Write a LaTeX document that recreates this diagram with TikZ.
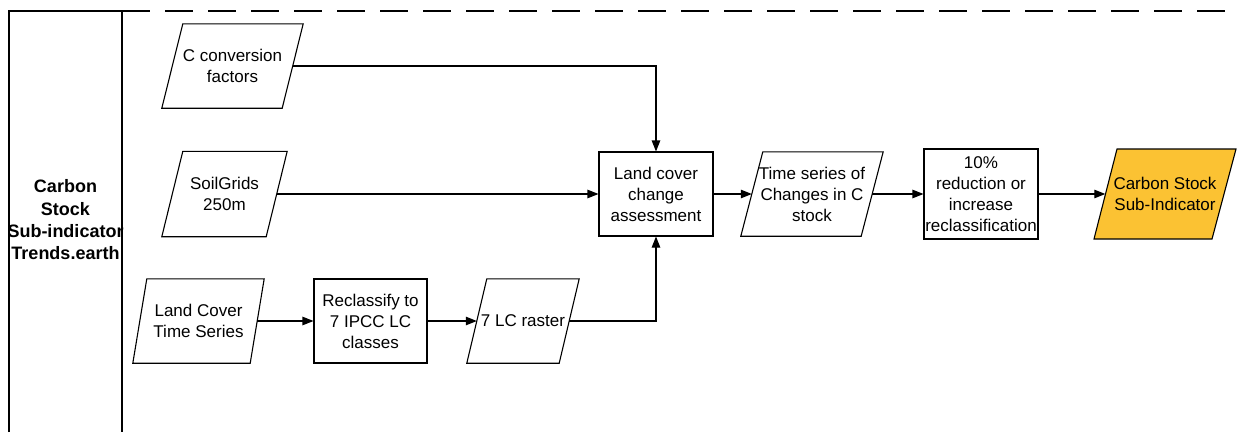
\documentclass[tikz,border=0pt]{standalone}
\usepackage{fontspec}
\setmainfont{Liberation Sans}
\usetikzlibrary{arrows.meta}
\definecolor{csfill}{RGB}{251,194,51}
\tikzset{
  x=1pt, y=-1pt,
  every node/.style={inner sep=0pt, align=center, font=\fontsize{17}{21}\selectfont},
  boxnode/.style={draw, line width=1.1pt, minimum width=#1},
  paranode/.style={minimum width=#1},
  arr/.style={line width=1.1pt, -{Triangle[length=11pt,width=8.5pt]}},
  frame/.style={line width=1.1pt},
  lanetext/.style={font=\fontsize{18}{22.3}\selectfont\bfseries}
}
\begin{document}
\begin{tikzpicture}
\useasboundingbox (0,0) rectangle (1240,432);
% lane frame
\draw[frame] (9,432) -- (9,11) -- (122,11) -- (122,432);
\draw[frame, dash pattern=on 28pt off 15pt] (122,11) -- (1240,11);
\node[lanetext] (lane) at (65.5,220) {Carbon\\Stock\\Sub-indicator\\Trends.earth};

% nodes
\node[paranode=141, minimum height=84] (cf) at (232.5,66) {C conversion\\factors};
\node[paranode=125, minimum height=85] (sg) at (224.5,194) {SoilGrids\\250m};
\node[paranode=131, minimum height=84] (lc) at (198.5,321) {Land Cover\\Time Series};
\node[boxnode=113, minimum height=84] (rc) at (370.5,321) {Reclassify to\\7 IPCC LC\\classes};
\node[paranode=112, minimum height=84] (ras) at (523,321) {7 LC raster};
\node[boxnode=114, minimum height=84] (lcca) at (656,194) {Land cover\\change\\assessment};
\node[paranode=142, minimum height=84] (ts) at (812,194) {Time series of\\Changes in C\\stock};
\node[boxnode=114, minimum height=90] (red) at (981,194) {10\%\\reduction or\\increase\\reclassification};
% parallelogram outlines
\foreach \n/\s in {cf/21, sg/21, lc/14, ras/20, ts/22}{
  \draw[frame, line join=miter] (\n.south west) -- ([xshift=\s pt]\n.north west) -- (\n.north east) -- ([xshift=-\s pt]\n.south east) -- cycle;
}
\coordinate (csnw) at (1117,149);
\coordinate (csne) at (1236,149);
\coordinate (csse) at (1212,239);
\coordinate (cssw) at (1094,239);
\draw[frame, fill=csfill] (cssw) -- (csnw) -- (csne) -- (csse) -- cycle;
\node[paranode=142, minimum height=90] (cs) at (1165,194) {Carbon Stock\\Sub-Indicator};

% connectors
\draw[arr] ([xshift=-10.5pt]cf.east) -| (lcca.north);
\draw[arr] ([xshift=-10.5pt]sg.east) -- (lcca.west);
\draw[arr] ([xshift=-7pt]lc.east) -- (rc.west);
\draw[arr] (rc.east) -- ([xshift=10pt]ras.west);
\draw[arr] ([xshift=-10pt]ras.east) -| (lcca.south);
\draw[arr] (lcca.east) -- ([xshift=11pt]ts.west);
\draw[arr] ([xshift=-11pt]ts.east) -- (red.west);
\draw[arr] (red.east) -- ([xshift=11.5pt]cs.west);
\end{tikzpicture}
\end{document}
